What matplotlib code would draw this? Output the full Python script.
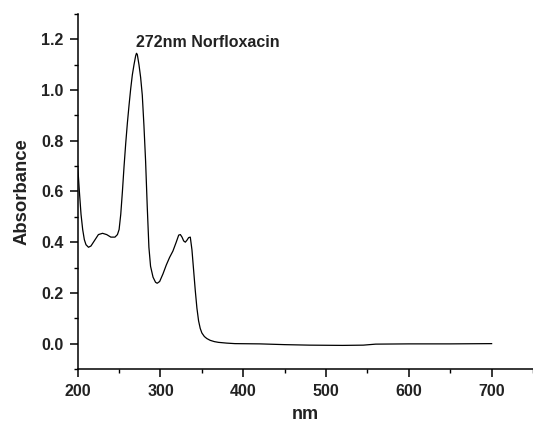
import matplotlib
matplotlib.use("Agg")
import matplotlib.pyplot as plt
from matplotlib.ticker import MultipleLocator

plt.rcParams['font.family'] = ['Liberation Sans', 'DejaVu Sans']

wavelength = [200, 202, 204, 206, 208, 210, 213, 216, 220, 225, 230, 235, 240, 245,
              248, 250, 252, 254, 256, 258, 260, 262, 264, 266, 268, 270, 271, 272,
              274, 276, 278, 280, 282, 284, 286, 288, 291, 294, 296, 299, 303, 307,
              311, 315, 319, 322, 324, 326, 328, 330, 332, 334, 336, 338, 340, 342,
              344, 346, 348, 350, 353, 356, 360, 365, 370, 380, 390, 420, 450, 480,
              520, 545, 560, 600, 650, 700]
absorbance = [0.70, 0.60, 0.51, 0.45, 0.41, 0.39, 0.38, 0.385, 0.405, 0.43, 0.435, 0.43, 0.42, 0.42,
              0.43, 0.45, 0.51, 0.60, 0.70, 0.79, 0.87, 0.94, 1.005, 1.06, 1.10, 1.135, 1.145, 1.14,
              1.10, 1.05, 0.98, 0.86, 0.72, 0.54, 0.38, 0.305, 0.262, 0.242, 0.238, 0.245, 0.275, 0.31,
              0.34, 0.365, 0.40, 0.428, 0.43, 0.42, 0.405, 0.40, 0.408, 0.418, 0.42, 0.37, 0.29, 0.21,
              0.14, 0.09, 0.06, 0.042, 0.028, 0.02, 0.013, 0.008, 0.005, 0.002, 0.0, -0.001, -0.004, -0.006,
              -0.007, -0.006, -0.002, -0.001, -0.001, 0.0]

annotation = "272nm Norfloxacin"

fig = plt.figure(figsize=(5.33, 4.23), dpi=100)
ax = fig.add_axes([0.1458, 0.1277, 0.8542, 0.8393])
ax.plot(wavelength, absorbance, color='black', lw=0.9)

ax.set_xlim(200, 750)
ax.set_ylim(-0.1, 1.3)
ax.xaxis.set_minor_locator(MultipleLocator(50))
ax.yaxis.set_minor_locator(MultipleLocator(0.1))
ax.set_xticks([200, 300, 400, 500, 600, 700])
ax.set_yticks([0.0, 0.2, 0.4, 0.6, 0.8, 1.0, 1.2])
ax.set_yticklabels(['0.0', '0.2', '0.4', '0.6', '0.8', '1.0', '1.2'])

for s in ['top', 'right']:
    ax.spines[s].set_visible(False)
for s in ['left', 'bottom']:
    ax.spines[s].set_linewidth(1.1)

ax.tick_params(which='major', direction='out', length=5.5, width=1.1, labelsize=11.5, pad=4.5)
ax.tick_params(which='minor', direction='out', length=3, width=1.0)
ax.tick_params(axis='x', which='major', pad=5.5)
for lab in ax.get_xticklabels() + ax.get_yticklabels():
    lab.set_fontweight('bold')
    lab.set_color('#222222')

ax.set_xlabel('nm', fontsize=13, fontweight='bold', color='#222222', labelpad=5)
ax.set_ylabel('Absorbance', fontsize=13.3, fontweight='bold', color='#222222', labelpad=8)

ax.text(271, 1.187, annotation, fontsize=11.5, fontweight='bold', color='#222222',
        ha='left', va='center')

fig.savefig('out.png', dpi=100)
